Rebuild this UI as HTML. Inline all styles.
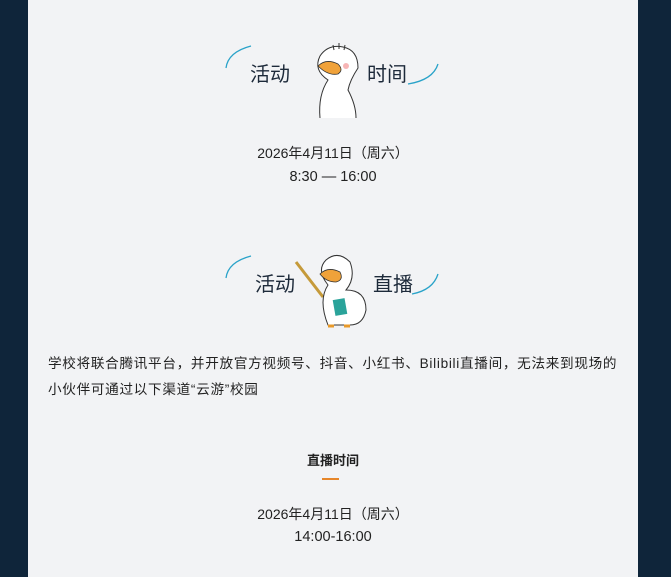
<!DOCTYPE html>
<html><head><meta charset="utf-8"><style>
body{margin:0;width:671px;height:577px;background:#0f253a;overflow:hidden;font-family:"Liberation Sans","Noto Sans CJK SC",sans-serif;color:#222;}
#p{position:absolute;left:28px;top:0;width:610px;height:577px;background:#f2f3f5;}
.t{position:absolute;white-space:nowrap;}
.c{position:absolute;left:0;width:610px;text-align:center;font-size:14px;}
.h{font-size:20px;color:#1d2a3a;}
</style></head><body><div id="p">
<svg style="position:absolute;left:0;top:0" width="610" height="577">
<g fill="none" stroke="#2aa3c9" stroke-width="1.3">
<path d="M198 68 Q200 52 223 46"/><path d="M380 84 Q405 80 410 64"/>
<path d="M198 278 Q200 262 223 256"/><path d="M384 294 Q405 290 410 274"/>
</g>
<g fill="#fff" stroke="#333" stroke-width="1">
<path d="M292 118 Q290 95 300 80 Q285 70 292 56 Q300 44 315 47 Q330 50 330 68 Q322 80 320 90 Q328 105 328 118"/>
<path d="M306 50 l-1 -5 M311 49 l0 -6 M316 50 l1 -5"/>
</g>
<path d="M290 66 Q298 58 310 64 Q316 70 310 74 Q300 76 290 66Z" fill="#f0a23a" stroke="#333" stroke-width=".8"/>
<circle cx="318" cy="66" r="3" fill="#f7b5b5"/>
<line x1="268" y1="262" x2="295" y2="297" stroke="#c59a3a" stroke-width="3"/>
<g fill="#fff" stroke="#333" stroke-width="1">
<path d="M300 325 Q290 300 300 285 Q288 270 298 260 Q310 250 322 262 Q328 278 318 290 Q338 290 338 310 Q335 325 322 325Z"/>
</g>
<path d="M292 274 Q300 266 312 272 Q316 280 308 282 Q298 282 292 274Z" fill="#f0a23a" stroke="#333" stroke-width=".8"/>
<rect x="306" y="299" width="12" height="16" fill="#2aa39a" transform="rotate(-10 312 307)"/>
<path d="M300 326h6M316 326h6" stroke="#e89a2a" stroke-width="3"/>
<line x1="294" y1="479" x2="311" y2="479" stroke="#e6862a" stroke-width="2"/>
</svg>
<div class="t h" style="left:222px;top:58px">活动</div>
<div class="t h" style="left:339px;top:58px">时间</div>
<div class="c" style="top:143px">2026年4月11日（周六）</div>
<div class="c" style="top:169px;font-size:14.5px">8:30 — 16:00</div>
<div class="t h" style="left:227px;top:268px">活动</div>
<div class="t h" style="left:345px;top:268px">直播</div>
<div class="t" style="left:20px;top:351px;font-size:13.6px;line-height:26px;letter-spacing:0.7px;">学校将联合腾讯平台，并开放官方视频号、抖音、小红书、Bilibili直播间，无法来到现场的<br>小伙伴可通过以下渠道“云游”校园</div>
<div class="c" style="top:450px;font-size:13px;font-weight:bold;">直播时间</div>
<div class="c" style="top:504px">2026年4月11日（周六）</div>
<div class="c" style="top:529px;font-size:14.5px">14:00-16:00</div>
</div></body></html>
